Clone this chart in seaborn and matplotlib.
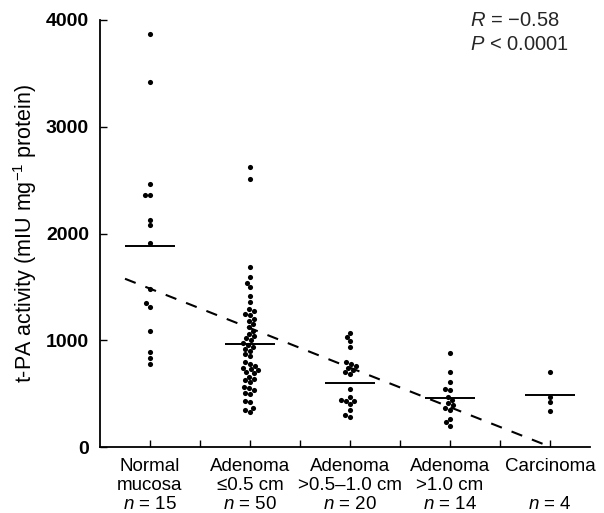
import numpy as np
import pandas as pd
import matplotlib
matplotlib.use("Agg")
import matplotlib.pyplot as plt
import seaborn as sns

# ---------------- data ----------------
categories = ["Normal mucosa", "Adenoma <=0.5", "Adenoma >0.5-1.0", "Adenoma >1.0", "Carcinoma"]
tick_labels = [
    "Normal\nmucosa\n$n$ = 15",
    "Adenoma\n\u22640.5 cm\n$n$ = 50",
    "Adenoma\n>0.5\u20131.0 cm\n$n$ = 20",
    "Adenoma\n>1.0 cm\n$n$ = 14",
    "Carcinoma\n\n$n$ = 4",
]
normal_mucosa = [3866, 3416, 2464, 2360, 2360, 2126, 2077, 1914, 1477, 1346,
                 1310, 1087, 893, 837, 778]
adenoma_small = [2620, 2510, 1690, 1590, 1540, 1500, 1410, 1360, 1290, 1270,
                 1250, 1240, 1200, 1180, 1150, 1120, 1090, 1060, 1040, 1020,
                 1000, 970, 960, 940, 920, 900, 870, 850, 800, 780,
                 760, 740, 730, 720, 700, 690, 660, 640, 630, 610,
                 560, 550, 530, 510, 500, 430, 420, 370, 350, 330]
adenoma_mid = [1070, 1030, 990, 940, 800, 780, 760, 740, 720, 700,
               680, 540, 470, 440, 430, 430, 400, 350, 300, 280]
adenoma_large = [880, 700, 610, 540, 530, 470, 440, 410, 390, 370,
                 350, 260, 230, 200]
carcinoma = [700, 470, 420, 340]
group_means = [1883, 962, 596, 456, 487]
y_ticks = [0, 1000, 2000, 3000, 4000]
r_text = "$R$ = \u22120.58"
p_text = "$P$ < 0.0001"

groups = [normal_mucosa, adenoma_small, adenoma_mid, adenoma_large, carcinoma]
df = pd.DataFrame({
    "group": np.concatenate([[c] * len(g) for c, g in zip(categories, groups)]),
    "value": np.concatenate(groups).astype(float),
})
df["pos"] = df["group"].map({c: i for i, c in enumerate(categories)})

# ---------------- style ----------------
sns.set_theme(style="ticks")
plt.rcParams["font.family"] = ["Liberation Sans", "DejaVu Sans"]
plt.rcParams["mathtext.fontset"] = "custom"
plt.rcParams["mathtext.rm"] = "Liberation Sans"
plt.rcParams["mathtext.it"] = "Liberation Sans:italic"
plt.rcParams["mathtext.bf"] = "Liberation Sans:bold"

fig = plt.figure(figsize=(6.04, 5.13), dpi=100)
ax = fig.add_axes([100 / 604, 1 - 447 / 513, 490 / 604, 427 / 513])

sns.swarmplot(data=df, x="group", y="value", order=categories, color="black",
              size=3.7, linewidth=0, ax=ax)

pos = np.arange(len(categories))
ax.hlines(group_means, pos - 0.25, pos + 0.25, color="black", lw=1.4, zorder=3)

coef = np.polyfit(df["pos"], df["value"], 1)
xs = np.array([-0.25, 4.2])
ax.plot(xs, np.polyval(coef, xs), color="black", lw=1.5, dashes=(5.5, 5), zorder=2)

ax.set_xlim(-0.5, 4.4)
ax.set_ylim(0, 4000)
ax.set_yticks(y_ticks)
ax.set_yticklabels([str(t) for t in y_ticks], fontweight="bold", fontsize=14)
ax.set_xticks(pos)
ax.set_xticks(np.arange(0.5, 4.0, 1.0), minor=True)
ax.set_xticklabels(tick_labels, fontsize=13.5, linespacing=1.15)
ax.tick_params(axis="both", which="both", direction="in", length=5, width=1,
               color="black", labelcolor="black")
ax.tick_params(axis="y", pad=8)
ax.tick_params(axis="x", pad=8)
ax.set_xlabel("")
ax.set_ylabel("t-PA activity (mIU mg$^{-1}$ protein)", fontsize=15.5, labelpad=5, color="black")
for s in ["top", "right"]:
    ax.spines[s].set_visible(False)
for s in ["left", "bottom"]:
    ax.spines[s].set_linewidth(1.3)
    ax.spines[s].set_color("black")

fig.text(470 / 604, 1 - 21 / 513, r_text, fontsize=14.5, va="center", ha="left")
fig.text(470 / 604, 1 - 44 / 513, p_text, fontsize=14.5, va="center", ha="left")

fig.savefig("out.png", dpi=100, facecolor="white")
